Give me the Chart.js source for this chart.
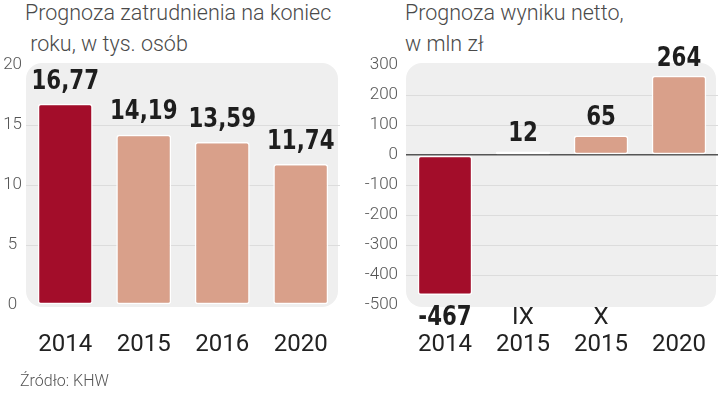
<!DOCTYPE html>
<html>
<head>
<meta charset="utf-8">
<script src="https://cdn.jsdelivr.net/npm/chart.js@4"></script>
<style>
	body { margin: 0; background: #fff; width: 720px; height: 393px; position: relative; overflow: hidden; }
	.title { position: absolute; font-family: Roboto, sans-serif; font-weight: 300; font-size: 21.5px; line-height: 31px; color: #4a4a4a; white-space: pre; }
	.src { position: absolute; left: 20px; top: 371px; font-family: Roboto, sans-serif; font-weight: 300; font-size: 16px; color: #555; }
	canvas { position: absolute; top: 0; }
</style>
</head>
<body>
<div class="title" style="left:25px; top:-3px;">Prognoza zatrudnienia na koniec
 roku, w tys. osób</div>
<div class="title" style="left:405px; top:-3px;">Prognoza wyniku netto,
w mln zł</div>
<div style="position:absolute;left:0;top:0;width:360px;height:393px;"><canvas id="chartEmp"></canvas></div>
<div style="position:absolute;left:360px;top:0;width:360px;height:393px;"><canvas id="chartNet"></canvas></div>
<div class="src">Źródło: KHW</div>
<script>
const empLabels = [['', '2014'], ['', '2015'], ['', '2016'], ['', '2020']];
const empValues = [16.77, 14.19, 13.59, 11.74];
const empTicks = [0, 5, 10, 15, 20];

const netLabels = [['', '2014'], ['IX', '2015'], ['X', '2015'], ['', '2020']];
const netValues = [-467, 12, 65, 264];
const netTicks = [-500, -400, -300, -200, -100, 0, 100, 200, 300];

const darkRed = '#a30d2a';
const salmon = '#d9a08a';

const plotBg = {
	id: 'plotBg',
	beforeDraw: function (chart) {
		const a = chart.chartArea;
		const c = chart.ctx;
		c.save();
		c.fillStyle = '#efefef';
		c.beginPath();
		c.roundRect(a.left, a.top - 2, a.right - a.left - 2, a.bottom - a.top + 4, 16);
		c.fill();
		c.restore();
	}
};

// condensed bold look: squeeze DejaVu Sans Bold horizontally
const valueLabels = {
	id: 'valueLabels',
	afterDatasetsDraw: function (chart, args, opts) {
		const c = chart.ctx;
		const meta = chart.getDatasetMeta(0);
		const data = chart.data.datasets[0].data;
		c.save();
		c.font = 'bold 26px "DejaVu Sans", sans-serif';
		c.fillStyle = '#1e1e1e';
		c.textAlign = 'center';
		c.textBaseline = 'middle';
		meta.data.forEach(function (bar, i) {
			const v = data[i];
			const txt = String(v).replace('.', ',');
			const y = v >= 0 ? bar.y - opts.offset : bar.y + 23;
			c.save();
			c.translate(bar.x, y);
			c.scale(0.82, 1);
			c.fillText(txt, 0, 0);
			c.restore();
		});
		c.restore();
	}
};

function makeChart(id, labels, values, ticks, o) {
	return new Chart(document.getElementById(id).getContext('2d'), {
		type: 'bar',
		data: {
			labels: labels,
			datasets: [{
				data: values,
				backgroundColor: values.map(function (v, i) { return i === 0 ? darkRed : salmon; }),
				borderColor: '#ffffff',
				borderWidth: 1.5,
				borderRadius: 3,
				borderSkipped: false,
				barPercentage: 0.7,
				categoryPercentage: 1
			}]
		},
		options: {
			responsive: true,
			maintainAspectRatio: false,
			animation: false,
			layout: { padding: { top: 65, right: o.right, left: 0, bottom: 0 } },
			plugins: {
				legend: { display: false },
				tooltip: { enabled: false },
				valueLabels: { offset: o.offset }
			},
			scales: {
				x: {
					grid: { display: false, drawTicks: false },
					border: { display: false },
					ticks: {
						padding: 0,
						color: '#222',
						font: { family: 'Roboto', size: 24, lineHeight: 1.12 }
					},
					afterFit: function (s) { s.height = 88; }
				},
				y: {
					min: ticks[0],
					max: ticks[ticks.length - 1],
					afterBuildTicks: function (s) { s.ticks = ticks.map(function (v) { return { value: v }; }); },
					grid: {
						drawTicks: false,
						color: function (ctx) {
							const v = ctx.tick.value;
							if (v === ticks[0] || v === ticks[ticks.length - 1]) return 'rgba(0,0,0,0)';
							if (v === 0) return '#555';
							return '#dcdcdc';
						},
						lineWidth: function (ctx) { return ctx.tick.value === 0 ? 1.5 : 1; }
					},
					border: { display: false },
					ticks: {
						padding: o.tickPad,
						crossAlign: o.cross,
						color: '#555',
						font: { family: 'Roboto', weight: '300', size: 17 }
					},
					afterFit: function (s) { s.width = o.axisW; }
				}
			}
		},
		plugins: [plotBg, valueLabels]
	});
}

makeChart('chartEmp', empLabels, empValues, empTicks, { right: 20, offset: 22, axisW: 26, tickPad: 4, cross: 'center' });
makeChart('chartNet', netLabels, netValues, netTicks, { right: 2, offset: 17, axisW: 46, tickPad: 8, cross: 'near' });
</script>
</body>
</html>
